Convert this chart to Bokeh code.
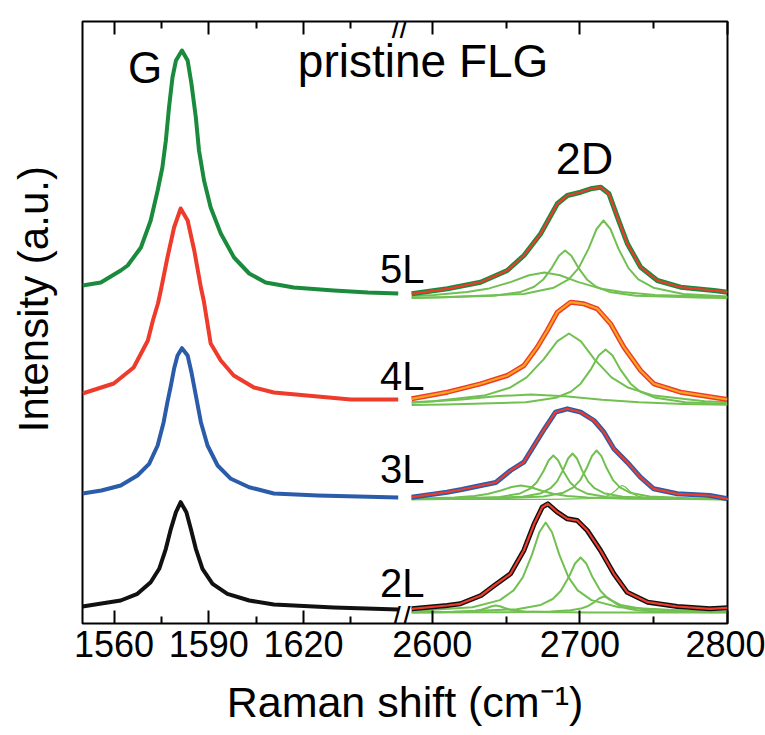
import math
from bokeh.plotting import figure
from bokeh.models import Range1d, LinearAxis, FixedTicker, Label, CustomJSTickFormatter
from bokeh.embed import file_html
from bokeh.resources import INLINE

# ---------------- data (Raman shift in cm^-1, intensity in arbitrary offset units) ----------------
# G band (left panel)
g5_x = [1550, 1555.8, 1562.1, 1564.3, 1568.5, 1571.6, 1573.8, 1575.3, 1576.4, 1577.4, 1578.5, 1579.6,
        1581.5, 1583.3, 1584.5, 1585.9, 1586.9, 1588.5, 1590.6, 1593.8, 1598.0, 1602.8, 1608, 1616.9,
        1629.6, 1640.4, 1650]
g5_y = [338, 341, 353, 358, 376, 403, 433, 456, 483, 516, 546, 563, 573, 563, 540, 506, 473, 443, 416,
        390, 366, 350, 341, 336, 333, 331, 330]

g4_x = [1550, 1559.9, 1566.2, 1570.7, 1572.3, 1573.9, 1574.8, 1576.9, 1579.0, 1581.1, 1583.3, 1585.4,
        1587.5, 1588.4, 1590.6, 1593.8, 1597.9, 1604.3, 1610.6, 1624.5, 1635.0, 1650]
g4_y = [230, 240, 256, 283, 303, 320, 333, 366, 396, 415, 403, 373, 336, 323, 280, 263, 248, 236, 231,
        227, 224, 224]

g3_x = [1550, 1556, 1562.1, 1567.4, 1571.1, 1573.8, 1575.7, 1576.9, 1578.0, 1579.0, 1580.1, 1581.5,
        1583.3, 1584.5, 1585.9, 1587.5, 1589.6, 1592.8, 1597.0, 1602.8, 1610.6, 1624.5, 1650]
g3_y = [130, 133, 138, 148, 159.7, 178, 201.3, 221.3, 238, 254.7, 268, 275.3, 268, 251.3, 228, 201.3,
        178, 158, 144.7, 136.3, 130, 128, 126]

g2_x = [1550, 1556, 1562.1, 1567.4, 1571.6, 1574.3, 1576.4, 1578.0, 1579.6, 1581.1, 1582.9, 1584.3,
        1585.9, 1588.0, 1591.2, 1595.9, 1602.8, 1610.6, 1629.6, 1650]
g2_y = [17, 20, 23, 29.7, 41.3, 54.7, 74.7, 94.7, 111.3, 121.3, 111.3, 94.7, 74.7, 54.7, 39.7, 29.7, 23,
        19, 16, 14]

# 2D band spectra (right panel)
s5_x = [2586, 2610.2, 2632.7, 2650.8, 2662.1, 2673.4, 2684.7, 2691.5, 2700.5, 2707.3, 2714.1, 2719.7,
        2725.4, 2732.2, 2741.2, 2752.5, 2768.2, 2790.8, 2800]
s5_y = [329.7, 334.7, 341.3, 353, 368, 389.7, 419.7, 428, 431.3, 434.7, 436.3, 429.7, 406.3, 379.7,
        356.3, 343, 336.3, 333, 331.3]

s4_x = [2586, 2610.2, 2632.7, 2650.8, 2662.1, 2671.1, 2677.9, 2684.7, 2693.7, 2702.7, 2711.8, 2720.8,
        2729.8, 2741.1, 2750.1, 2768.2, 2800]
s4_y = [224.7, 231.3, 239.7, 248, 258, 276.3, 293, 311.3, 321.3, 319.7, 314.7, 299.7, 276.3, 253,
        239.7, 231.3, 224]

s3_x = [2586, 2610, 2620, 2633, 2643, 2653, 2662, 2669, 2676, 2683.5, 2691.5, 2700.5, 2709.5, 2716.3,
        2723, 2732, 2741, 2750, 2766, 2788, 2800]
s3_y = [126.3, 131.3, 134, 138, 141, 153, 161.3, 178, 194.7, 211.3, 214.7, 211.3, 203, 191.3, 174.7,
        161.3, 146.3, 134.7, 129.7, 128, 124.7]

s2_x = [2586, 2610, 2619, 2633, 2642, 2653, 2662, 2669, 2674.5, 2678.3, 2684.7, 2691.5, 2698.2, 2705,
        2714, 2723, 2732, 2746, 2766, 2788, 2800]
s2_y = [14.7, 18, 19.7, 28, 38, 49.7, 73, 99.7, 116.3, 119.7, 111.3, 104.7, 103, 93, 73, 49.7, 31.3,
        21.3, 17, 14.7, 15.7]

# fitted components
c5a_x = [2586, 2608, 2662, 2682.3, 2692.4, 2699.1, 2705.9, 2711.3, 2716, 2720.7, 2726.1, 2732.9, 2739.6,
         2749.8, 2770, 2800]
c5a_y = [325.8, 326.2, 329.6, 335.8, 344.2, 355.4, 374.9, 394.5, 403, 394.5, 374.9, 355.4, 344.2, 335.8,
         329.6, 327.0]
c5b_x = [2586, 2594, 2642, 2660, 2669, 2675, 2681, 2685.8, 2690, 2694.2, 2699, 2705, 2711, 2720, 2738,
         2786, 2800]
c5b_y = [325.6, 325.7, 327.8, 331.6, 336.8, 343.7, 355.7, 367.8, 373, 367.8, 355.7, 343.7, 336.8, 331.6,
         327.8, 325.7, 325.6]
c5c_x = [2586, 2601, 2623.5, 2638.5, 2653.5, 2665.5, 2676, 2686.5, 2698.5, 2713.5, 2728.5, 2751, 2796, 2800]
c5c_y = [327.6, 328.6, 331.4, 335.1, 341.6, 348.2, 351, 348.2, 341.6, 335.1, 331.4, 328.6, 326.5, 326.4]

c4a_x = [2586, 2600.6, 2635.1, 2652.4, 2663.9, 2675.4, 2684.6, 2692.6, 2700.7, 2709.9, 2721.4, 2732.9,
         2750.1, 2784.6, 2800]
c4a_y = [221.2, 222.2, 227.9, 235.7, 246.1, 264.1, 282.2, 290, 282.2, 264.1, 246.1, 235.7, 227.9, 222.2,
         221.2]
c4b_x = [2586, 2609.4, 2663.4, 2683.7, 2693.8, 2700.5, 2707.3, 2712.7, 2717.4, 2722.1, 2727.5, 2734.3,
         2741, 2751.2, 2771.4, 2800]
c4b_y = [218.6, 218.9, 221.3, 225.7, 231.8, 239.8, 253.8, 267.9, 274, 267.9, 253.8, 239.8, 231.8, 225.7,
         221.3, 219.5]
c4c_x = [2586, 2620, 2645, 2666.6, 2690, 2715, 2740, 2770, 2800]
c4c_y = [220.8, 224.0, 227.4, 229, 227.2, 223.8, 221.3, 219.6, 218.7]

c3a_x = [2586, 2615, 2628.5, 2637.5, 2646.5, 2653.7, 2660, 2666.3, 2673.5, 2682.5, 2691.5, 2705, 2732, 2800]
c3a_y = [124.8, 125.9, 127.4, 129.5, 133.0, 136.5, 138, 136.5, 133.0, 129.5, 127.4, 125.9, 124.8, 124.2]
c3b_x = [2586, 2610, 2646, 2659.5, 2666.3, 2670.8, 2675.3, 2678.9, 2682, 2685.2, 2688.8, 2693.3, 2697.8,
         2704.5, 2718, 2754, 2800]
c3b_y = [124.4, 124.7, 126.6, 130.1, 134.8, 141.2, 152.2, 163.2, 168, 163.2, 152.2, 141.2, 134.8, 130.1,
         126.6, 124.7, 124.3]
c3c_x = [2586, 2627, 2661, 2673.8, 2680.1, 2684.4, 2688.6, 2692, 2695, 2698, 2701.4, 2705.6, 2709.9,
         2716.3, 2729, 2763, 2800]
c3c_y = [124.3, 124.7, 126.7, 130.3, 135.3, 141.9, 153.4, 165.0, 170, 165.0, 153.4, 141.9, 135.3, 130.3,
         126.7, 124.7, 124.3]
c3d_x = [2586, 2639.3, 2675.3, 2688.8, 2695.6, 2700.1, 2704.6, 2708.2, 2711.3, 2714.5, 2718.1, 2722.6,
         2727.1, 2733.8, 2747.3, 2783.3, 2800]
c3d_y = [124.3, 124.8, 126.9, 130.8, 136.1, 143.1, 155.4, 167.7, 173, 167.7, 155.4, 143.1, 136.1, 130.8,
         126.9, 124.8, 124.5]
c3e_x = [2586, 2680.7, 2704.7, 2713.7, 2718.2, 2721.2, 2724.2, 2726.6, 2728.7, 2730.8, 2733.2, 2736.2,
         2739.2, 2743.7, 2752.7, 2776.7, 2800]
c3e_y = [124.0, 124.2, 124.8, 125.9, 127.4, 129.5, 133.0, 136.5, 138, 136.5, 133.0, 129.5, 127.4, 125.9,
         124.8, 124.2, 124.1]

c2a_x = [2586, 2627.2, 2645.8, 2655.1, 2661.3, 2667.5, 2672.5, 2676.8, 2681.1, 2686.1, 2692.3, 2698.5,
         2707.8, 2726.4, 2776, 2800]
c2a_y = [12.6, 16.3, 23.4, 33.1, 46.1, 68.6, 91.2, 101, 91.2, 68.6, 46.1, 33.1, 23.4, 16.3, 12.4, 11.9]
c2b_x = [2586, 2614.1, 2657.3, 2673.5, 2681.6, 2687, 2692.4, 2696.7, 2700.5, 2704.3, 2708.6, 2714, 2719.4,
         2727.5, 2743.7, 2786.9, 2800]
c2b_y = [11.5, 11.8, 14.2, 18.6, 24.5, 32.5, 46.2, 60.0, 66, 60.0, 46.2, 32.5, 24.5, 18.6, 14.2, 11.8, 11.6]
c2c_x = [2586, 2611, 2623, 2629, 2633, 2637, 2640.2, 2643, 2645.8, 2649, 2653, 2657, 2663, 2675, 2707, 2800]
c2c_y = [11.1, 11.4, 12.0, 12.7, 13.7, 15.5, 17.2, 18, 17.2, 15.5, 13.7, 12.7, 12.0, 11.4, 11.1, 11.0]
c2d_x = [2586, 2644.3, 2680.3, 2693.8, 2700.6, 2705.1, 2709.6, 2713.2, 2716.3, 2719.5, 2723.1, 2727.6,
         2732.1, 2738.8, 2752.3, 2788.3, 2800]
c2d_y = [11.1, 11.2, 11.9, 13.2, 14.9, 17.2, 21.2, 25.3, 27, 25.3, 21.2, 17.2, 14.9, 13.2, 11.9, 11.2, 11.2]

left_ticks = [1560, 1590, 1620]
left_minor = [1575, 1605, 1635]
right_ticks = [2600, 2700, 2800]
right_minor = [2650, 2750]
layer_labels = ["5L", "4L", "3L", "2L"]

# ---------------- styling ----------------
FONT = "'Liberation Sans', Arial, sans-serif"
DKGREEN = "#1a8a3c"
RED = "#ee3b2b"
BLUE = "#2a5caa"
BLACK = "#111111"
ORANGE = "#f7a51c"
LTGREEN = "#72c052"

left_range = Range1d(1550, 1754.3)      # G-band panel scale (spans the whole frame)
right_range = Range1d(2363.0, 2800)     # 2D-band panel scale (spans the whole frame)

p = figure(width=765, height=735, x_range=left_range, y_range=Range1d(0, 602),
           output_backend="svg", toolbar_location=None,
           x_axis_location=None, y_axis_location=None,
           min_border_left=82, min_border_right=38, min_border_top=21, min_border_bottom=112)
p.extra_x_ranges = {"r": right_range}
p.grid.visible = False
p.outline_line_color = "black"
p.outline_line_width = 2
p.background_fill_color = "white"
p.border_fill_color = "white"


def to_left(v):
    # position of a 2D-panel value on the shared frame, expressed through the G-panel scale
    return left_range.start + (v - right_range.start) * (left_range.end - left_range.start) / (right_range.end - right_range.start)


all_major = left_ticks + [to_left(v) for v in right_ticks]
all_minor = left_minor + [to_left(v) for v in right_minor]

fmt = CustomJSTickFormatter(
    args=dict(lr=left_range, rr=right_range),
    code="""
if (tick < 1655) { return tick.toFixed(0); }
const v = rr.start + (tick - lr.start) * (rr.end - rr.start) / (lr.end - lr.start);
return Math.round(v).toString();
""")


def make_xaxis(side, labels):
    ax = LinearAxis(ticker=FixedTicker(ticks=all_major, minor_ticks=all_minor),
                    bounds=(left_range.start, left_range.end))
    ax.axis_line_color = None
    ax.major_tick_in = 13
    ax.major_tick_out = 0
    ax.minor_tick_in = 7
    ax.minor_tick_out = 0
    ax.major_tick_line_width = 2
    ax.minor_tick_line_width = 2
    if labels:
        ax.formatter = fmt
        ax.major_label_text_font = FONT
        ax.major_label_text_font_size = "36px"
        ax.major_label_text_color = "black"
        ax.major_label_standoff = 7
        ax.axis_label = "Raman shift (cm\u207b\u00b9)"
        ax.axis_label_text_font = FONT
        ax.axis_label_text_font_size = "43px"
        ax.axis_label_text_font_style = "normal"
        ax.axis_label_text_color = "black"
        ax.axis_label_standoff = 18
    else:
        ax.formatter = CustomJSTickFormatter(code="return ''")
        ax.major_label_text_font_size = "0px"
        ax.major_label_standoff = 0
    p.add_layout(ax, side)


make_xaxis("below", True)
make_xaxis("above", False)

ya = LinearAxis(ticker=FixedTicker(ticks=[]), major_label_text_font_size="0px",
                formatter=CustomJSTickFormatter(code="return ''"), major_label_standoff=0)
ya.axis_line_color = None
ya.major_tick_line_color = None
ya.minor_tick_line_color = None
ya.axis_label = "\u00a0\u00a0\u00a0\u00a0Intensity (a.u.)"
ya.axis_label_text_font = FONT
ya.axis_label_text_font_size = "42px"
ya.axis_label_text_font_style = "normal"
ya.axis_label_text_color = "black"
ya.axis_label_standoff = 26
p.add_layout(ya, "left")

# G band curves
for xs, ys, col in [(g2_x, g2_y, BLACK), (g3_x, g3_y, BLUE), (g4_x, g4_y, RED), (g5_x, g5_y, DKGREEN)]:
    p.line(xs, ys, line_color=col, line_width=4, line_join="round")

# 2D components
comps = [c5a_x, c5a_y, c5b_x, c5b_y, c5c_x, c5c_y,
         c4a_x, c4a_y, c4b_x, c4b_y, c4c_x, c4c_y,
         c3a_x, c3a_y, c3b_x, c3b_y, c3c_x, c3c_y, c3d_x, c3d_y,
         c2a_x, c2a_y, c2b_x, c2b_y, c2c_x, c2c_y, c2d_x, c2d_y]
for i in range(0, len(comps), 2):
    p.line(comps[i], comps[i + 1], x_range_name="r", line_color=LTGREEN, line_width=2, line_join="round")
p.line(c3e_x, c3e_y, x_range_name="r", line_color=LTGREEN, line_width=1.2, line_join="round")

# 2D spectra and fits
for xs, ys, col, fit in [(s5_x, s5_y, DKGREEN, RED), (s4_x, s4_y, RED, ORANGE),
                         (s3_x, s3_y, BLUE, RED), (s2_x, s2_y, BLACK, RED)]:
    p.line(xs, ys, x_range_name="r", line_color=col, line_width=5, line_join="round")
    p.line(xs, ys, x_range_name="r", line_color=fit, line_width=2.2, line_join="round")


def lab(text, x, y, size, align="left", baseline="alphabetic", angle=0.0):
    p.add_layout(Label(x=x, y=y, text=text, text_font=FONT, text_font_size=f"{size}px",
                       text_align=align, text_baseline=baseline, angle=angle, text_color="black"))


lab("G", 1564.4, 556.5, 44)
lab("pristine FLG", 1618.2, 562.7, 46)
lab("2D", 1699.9, 465, 45)
for t, yy in zip(layer_labels, [355, 248, 154.5, 41]):
    lab(t, 1644.2, yy, 40)

# axis break marks (drawn over the frame edges)
for xx in (1649.3, 1651.8):
    lab("/", xx, 596, 30, align="center", baseline="middle")
for xx in (1649.5, 1652.6):
    lab("/", xx, 6, 30, align="center", baseline="middle")

open("out.html", "w").write(file_html(p, INLINE))
